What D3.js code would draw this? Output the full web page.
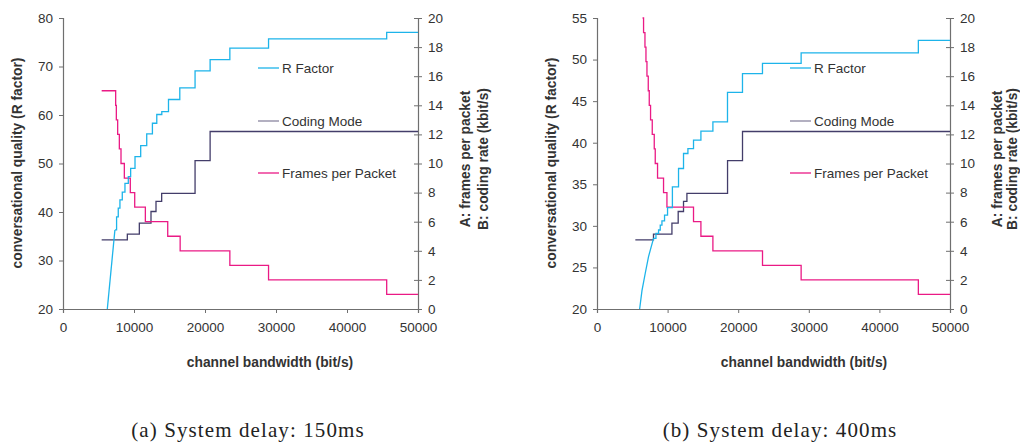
<!DOCTYPE html>
<html>
<head>
<meta charset="utf-8">
<script src="https://cdn.jsdelivr.net/npm/d3@7"></script>
<style>
  body { margin: 0; background: #fff; }
  svg { display: block; }
  .tick text { font-family: "Liberation Sans", Arial, sans-serif; font-size: 13.5px; fill: #333; }
  .domain, .tick line { stroke: #6f6f6f; }
</style>
</head>
<body>
<svg id="chart" width="1020" height="442"></svg>
<script>
// ── (a) System delay 150ms ──
// R factor: steep rising ramp, then steps
const rampAX = [6240, 7311];
const rampAY = [20, 36.3];
const rStepAX = [7311, 7547, 7783, 8019, 8349, 8726, 9198, 9528, 10142, 10943, 11792, 12594, 13208, 13915, 14858, 16450, 18600, 20720, 23500, 28950, 45590, 50000];
const rStepAY = [36.3, 39.0, 40.8, 42.5, 44.1, 45.9, 47.3, 49.0, 51.4, 53.7, 56.1, 58.3, 60.1, 60.7, 63.2, 65.6, 69.1, 71.4, 73.8, 75.7, 77.05, 77.05];
// coding mode (kbit/s)
const modeAX = [5446, 9061, 10751, 12394, 13099, 13897, 18600, 20720, 50000];
const modeAY = [4.75, 5.15, 5.9, 6.7, 7.4, 7.95, 10.2, 12.2, 12.2];
// frames per packet
const fppAX = [5446, 7418, 7512, 7700, 7935, 8169, 8639, 9480, 10100, 11600, 14750, 16500, 23500, 28950, 45590, 50000];
const fppAY = [15, 14, 13, 12, 11, 10, 9, 8, 7, 6, 5, 4, 3, 2, 1, 1];

// ── (b) System delay 400ms ──
const rampBX = [6040, 6370, 6835, 7300, 7685, 8010];
const rampBY = [20, 22.2, 24.3, 26.3, 27.5, 28.5];
const rStepBX = [8010, 8350, 8720, 8958, 9199, 9567, 9992, 10680, 11548, 12255, 12878, 13671, 14718, 16416, 18484, 20607, 23438, 28914, 45517, 50000];
const rStepBY = [28.5, 29.1, 29.5, 30.1, 30.6, 31.3, 32.2, 34.7, 36.9, 38.7, 39.3, 40.3, 41.4, 42.5, 46.06, 48.3, 49.55, 50.8, 52.3, 52.3];
const modeBX = [5430, 8000, 10613, 11500, 12255, 12736, 18491, 20610, 50000];
const modeBY = [4.75, 5.15, 5.9, 6.7, 7.4, 7.95, 10.2, 12.2, 12.2];
const fppBX = [6450, 6595, 6793, 6935, 7076, 7260, 7402, 7586, 7826, 8109, 8250, 8576, 9425, 9906, 13671, 14718, 16416, 23443, 28914, 45517, 50000];
const fppBY = [20, 19, 18, 17, 16, 15, 14, 13, 12, 11, 10, 9, 8, 7, 6, 5, 4, 3, 2, 1, 1];

const xTicks = [0, 10000, 20000, 30000, 40000, 50000];
const rightTicks = [0, 2, 4, 6, 8, 10, 12, 14, 16, 18, 20];
const yTicksA = [20, 30, 40, 50, 60, 70, 80];
const yTicksB = [20, 25, 30, 35, 40, 45, 50, 55];

const legendItems = ["R Factor", "Coding Mode", "Frames per Packet"];
const COL = { r: "#1db4ea", mode: "#433d6a", fpp: "#ea1a85" };
const LEGC = { "R Factor": "#1db4ea", "Coding Mode": "#8a86a0", "Frames per Packet": "#ea1a85" };

const svg = d3.select("#chart");
const zip = (xs, ys) => xs.map((x, i) => [x, ys[i]]);

function panel(p) {
    const g = svg.append("g");
    const x = d3.scaleLinear().domain([0, 50000]).range([p.left, p.right]);
    const y = d3.scaleLinear().domain(p.yDomain).range([309, 18]);
    const y2 = d3.scaleLinear().domain([0, 20]).range([309, 18]);

    // axes
    g.append("g").attr("transform", "translate(0,309)")
        .call(d3.axisBottom(x).tickValues(xTicks).tickFormat(d3.format("d")).tickSize(4).tickPadding(9));
    g.append("g").attr("transform", `translate(${p.left},0)`)
        .call(d3.axisLeft(y).tickValues(p.yTicks).tickSize(4).tickPadding(6));
    const ra = g.append("g").attr("transform", `translate(${p.right},0)`)
        .call(d3.axisRight(y2).tickValues(rightTicks).tickSizeOuter(0).tickSize(4).tickPadding(6));
    ra.selectAll(".tick line").attr("x1", -4).attr("x2", 4);
    g.selectAll(".domain").attr("stroke-width", 1.2);

    const lin = d3.line().x(d => x(d[0])).y(d => y(d[1]));
    const step = (data, sc) => d3.line().x(d => x(d[0])).y(d => sc(d[1])).curve(d3.curveStepAfter)(data);

    const lines = g.append("g").attr("fill", "none").attr("stroke-width", 1.3);
    lines.append("path").attr("d", step(zip(p.modeX, p.modeY), y2)).attr("stroke", COL.mode);
    lines.append("path").attr("d", step(zip(p.fppX, p.fppY), y2)).attr("stroke", COL.fpp);
    lines.append("path").attr("d", lin(zip(p.rampX, p.rampY))).attr("stroke", COL.r);
    lines.append("path").attr("d", step(zip(p.rStepX, p.rStepY), y)).attr("stroke", COL.r);

    // legend
    const lx = p.right - 160;
    [68, 121, 173].forEach((ly, i) => {
        g.append("line").attr("x1", lx).attr("x2", lx + 21).attr("y1", ly).attr("y2", ly)
            .attr("stroke", LEGC[legendItems[i]]).attr("stroke-width", 1.3);
        g.append("text").attr("x", lx + 24).attr("y", ly).attr("dy", "0.35em")
            .attr("font-family", "Liberation Sans, Arial, sans-serif").attr("font-size", "13.5px")
            .attr("fill", "#333").text(legendItems[i]);
    });

    // axis titles
    const bold = sel => sel.attr("font-family", "Liberation Sans, Arial, sans-serif")
        .attr("font-size", "13.8px").attr("font-weight", "bold").attr("fill", "#333");
    g.append("text").attr("x", p.left + 207).attr("y", 362).attr("dy", "0.35em")
        .attr("text-anchor", "middle").call(bold).text("channel bandwidth (bit/s)");
    g.append("text").attr("transform", `translate(${p.left - 46},163) rotate(-90)`).attr("dy", "0.35em")
        .attr("text-anchor", "middle").call(bold).text("conversational quality (R factor)");
    g.append("text").attr("transform", `translate(${p.right + 47},159) rotate(-90)`).attr("dy", "0.35em")
        .attr("text-anchor", "middle").call(bold).text("A: frames per packet");
    g.append("text").attr("transform", `translate(${p.right + p.r2},159) rotate(-90)`).attr("dy", "0.35em")
        .attr("text-anchor", "middle").call(bold).text("B: coding rate (kbit/s)");

    // caption
    g.append("text").attr("x", p.capX).attr("y", 430).attr("dy", "0.35em")
        .attr("text-anchor", "middle").attr("font-family", "Liberation Serif, serif")
        .attr("font-size", "21px").attr("letter-spacing", "1.1px").attr("fill", "#222")
        .text(p.caption);
}

panel({ left: 63, right: 418, yDomain: [20, 80], yTicks: yTicksA, capX: 248, r2: 65,
        caption: "(a) System delay: 150ms",
        rampX: rampAX, rampY: rampAY, rStepX: rStepAX, rStepY: rStepAY,
        modeX: modeAX, modeY: modeAY, fppX: fppAX, fppY: fppAY });
panel({ left: 597, right: 950, yDomain: [20, 55], yTicks: yTicksB, capX: 780, r2: 62,
        caption: "(b) System delay: 400ms",
        rampX: rampBX, rampY: rampBY, rStepX: rStepBX, rStepY: rStepBY,
        modeX: modeBX, modeY: modeBY, fppX: fppBX, fppY: fppBY });
</script>
</body>
</html>
